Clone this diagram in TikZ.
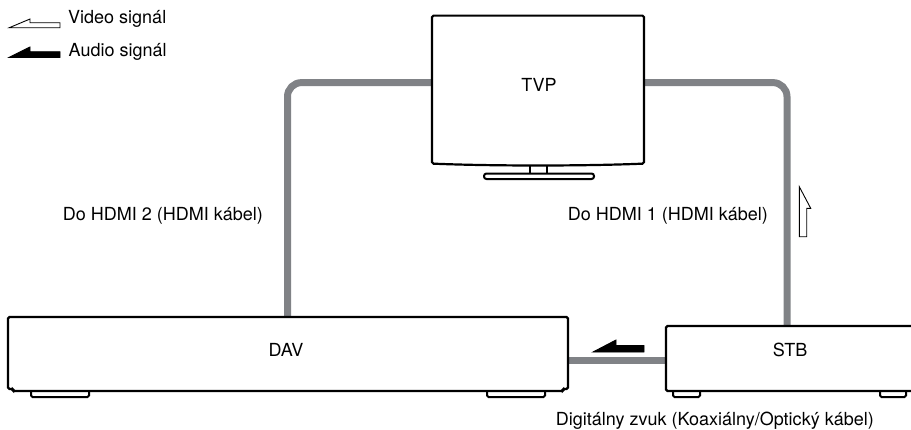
\documentclass[tikz,border=0pt]{standalone}
\usepackage{fontspec}
\setmainfont{TeX Gyre Heros}
\usetikzlibrary{calc}
\definecolor{cablegray}{RGB}{128,130,134}
\begin{document}
\begin{tikzpicture}[x=1pt,y=-1pt,
  geo/.style={draw=none, inner sep=0pt, outer sep=0pt},
  devline/.style={draw=black, line width=2.2pt, rounded corners=1.5pt},
  cable/.style={draw=cablegray, line width=7pt, rounded corners=14pt},
  footline/.style={draw=black, line width=2pt, rounded corners=1.5pt, fill=white},
  harrow/.style={draw=black, line width=0.9pt, line join=miter},
  lbl/.style={font=\fontsize{18}{21}\selectfont, inner sep=0pt}]
\useasboundingbox (0,0) rectangle (911,429);
% geometry nodes
\node[geo, minimum width=560pt, minimum height=74pt] (dav) at (288,354) {};
\node[geo, minimum width=249pt, minimum height=65pt] (stb) at (790.5,358.5) {};
\node[geo, minimum width=212pt, minimum height=148pt] (tv) at (538,89.6) {};
\coordinate (hxa) at (287.5,0);
\coordinate (hxb) at (787,0);
\coordinate (cy) at (0,360);
% cables
\draw[cable] (dav.north -| hxa) |- ($(tv.north west)+(0,67)$);
\draw[cable] ($(tv.north east)+(0,67)$) -| (stb.north -| hxb);
\draw[cable, rounded corners=0pt] (dav.east |- cy) -- (stb.west |- cy);
% DAV outline
\draw[footline] (31,390) -- (31,397) -- (89,397) -- (89,390);
\draw[footline] (487,390) -- (487,397) -- (545,397) -- (545,390);
\draw[devline] ($(dav.south west)+(0,-2)$) -- (dav.north west) -- (dav.north east)
  -- ($(dav.south east)+(0,-2)$) -- ($(dav.south east)+(-5,-2)$) -- ($(dav.south east)+(-5,0)$)
  -- ($(dav.south west)+(5,0)$) -- ($(dav.south west)+(5,-2)$) -- cycle;
% STB outline
\draw[footline] (673,390) -- (673,397) -- (700,397) -- (700,390);
\draw[footline] (880,390) -- (880,397) -- (906,397) -- (906,390);
\draw[devline] (stb.north east) -- (stb.north west) -- (stb.south west) -- (stb.south east);
% TV outline and stand
\draw[devline] (tv.south west) -- (tv.north west) -- (tv.north east) -- (tv.south east)
  .. controls ($(tv.south east)+(-60,2.5)$) and ($(tv.south west)+(60,2.5)$) .. (tv.south west) -- cycle;
\draw[devline] (530,166) -- (530,173.5) (547,166) -- (547,173.5);
\draw[footline, rounded corners=2.5pt] (484,173.5) rectangle (594,179);
% signal arrows
\draw[harrow, fill=white] (9.3,27.7) -- (30,19) -- (30,22.7) -- (60,22.7) -- (60,27.7) -- cycle;
\draw[harrow, fill=black] (9.3,57.3) -- (30,47) -- (30,51.7) -- (60,51.7) -- (60,57.3) -- cycle;
\draw[harrow, fill=black] (593,352) -- (616,340) -- (616,345.5) -- (644,345.5) -- (644,352) -- cycle;
\draw[harrow, fill=white] (799.3,186.7) -- (810.7,208.3) -- (806.7,208.3) -- (806.7,236.7) -- (799.3,236.7) -- cycle;
% labels
\node[lbl, anchor=base west] (lv) at (68,23.3) {Video signál};
\node[lbl, anchor=base west] (la) at (68.5,56.7) {Audio signál};
\node[lbl, anchor=base] (ttvp) at (539,91) {TVP};
\node[lbl, anchor=base] (tdav) at (286,356) {DAV};
\node[lbl, anchor=base] (tstb) at (790,356) {STB};
\node[lbl, anchor=base east] (lb) at (263,220.7) {Do HDMI 2 (HDMI kábel)};
\node[lbl, anchor=base east] (lc) at (768,220.7) {Do HDMI 1 (HDMI kábel)};
\node[lbl, anchor=base east] (ld) at (874,425) {Digitálny zvuk (Koaxiálny/Optický kábel)};
\end{tikzpicture}
\end{document}
